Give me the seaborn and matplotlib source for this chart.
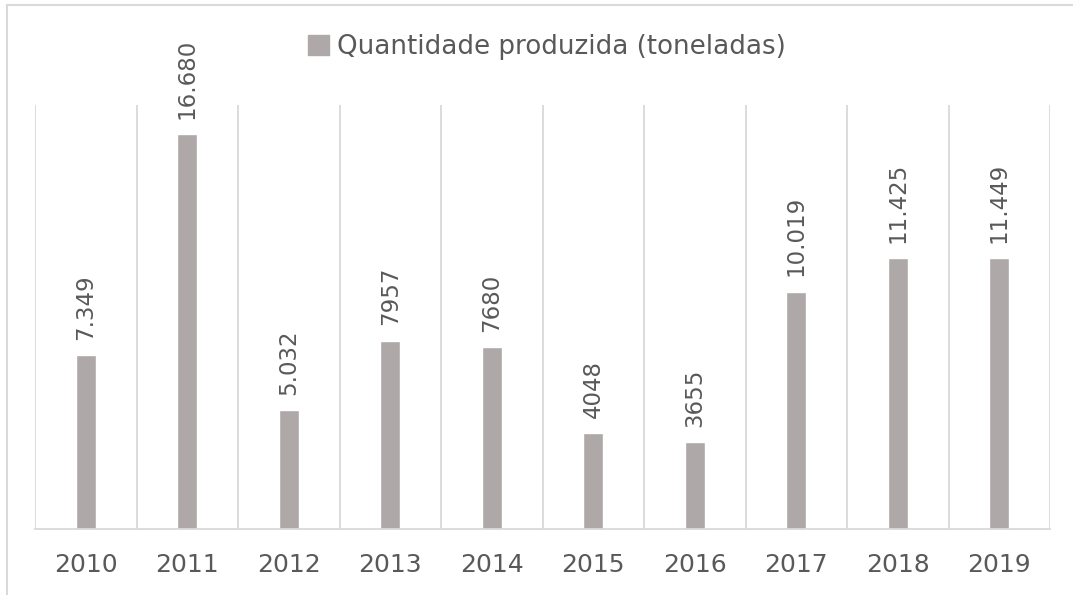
import matplotlib
matplotlib.use("Agg")
import matplotlib.pyplot as plt
import seaborn as sns
import pandas as pd
import numpy as np
from matplotlib.lines import Line2D

years = ["2010", "2011", "2012", "2013", "2014", "2015", "2016", "2017", "2018", "2019"]
values = [7349, 16680, 5032, 7957, 7680, 4048, 3655, 10019, 11425, 11449]
labels = ["7.349", "16.680", "5.032", "7957", "7680", "4048", "3655", "10.019", "11.425", "11.449"]
series_name = "Quantidade produzida (toneladas)"

df = pd.DataFrame({"Ano": years, "Valor": values, "Série": series_name})

sns.set_style("white")
plt.rcParams['font.family'] = ['DejaVu Sans']

W, H = 1073, 595
fig = plt.figure(figsize=(W / 100, H / 100), dpi=100)
ax = fig.add_axes([35 / W, 1 - 529 / H, (1050 - 35) / W, (529 - 105) / H])

bar_color = "#AEA9A8"
text_color = "#595959"
grid_color = "#D9D9D9"

sns.barplot(data=df, x="Ano", y="Valor", hue="Série", palette=[bar_color],
            width=0.2, ax=ax, legend=False, saturation=1)

ax.set_ylim(0, 17900)
ax.set_xlim(-0.5, len(years) - 0.5)
ax.set_yticks([])
ax.set_xticks(range(len(years)))
ax.set_xticklabels(years)
ax.set_xticks(np.arange(-0.5, len(years), 1.0), minor=True)
ax.grid(which="minor", axis="x", color=grid_color, linewidth=1.3)
ax.tick_params(axis="x", which="both", length=0, pad=17, labelsize=18, labelcolor=text_color)
ax.set_xlabel("")
ax.set_ylabel("")
for s in ["top", "left", "right"]:
    ax.spines[s].set_visible(False)
ax.spines["bottom"].set_color(grid_color)
ax.spines["bottom"].set_linewidth(1.3)

for cont in ax.containers:
    ax.bar_label(cont, labels=labels, rotation=90, padding=11, color=text_color, fontsize=16.5)

# legend
handle = plt.Rectangle((0, 0), 1, 1, color=bar_color)
fig.legend([handle], [series_name], loc="center", bbox_to_anchor=(547 / W, 1 - 47 / H),
           frameon=False, fontsize=18.8, labelcolor=text_color, handlelength=0.8, handleheight=0.8,
           handletextpad=0.3)

# chart border (top and left)
fig.add_artist(Line2D([7 / W, 1.0], [1 - 5 / H, 1 - 5 / H], transform=fig.transFigure, color=grid_color, linewidth=1.5))
fig.add_artist(Line2D([7 / W, 7 / W], [0, 1 - 5 / H], transform=fig.transFigure, color=grid_color, linewidth=1.5))

fig.savefig("out.png", dpi=100)
